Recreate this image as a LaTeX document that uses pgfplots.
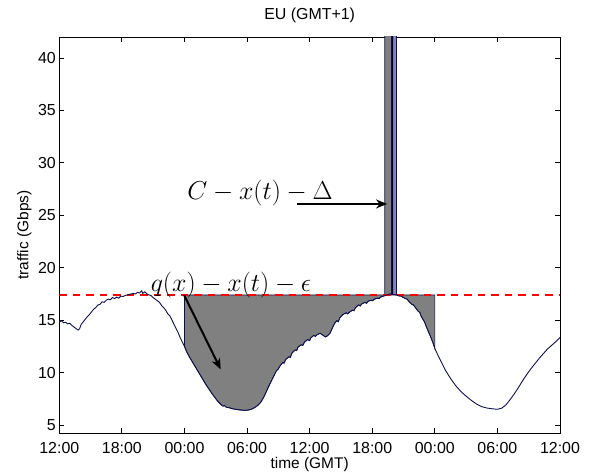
\RequirePackage{fix-cm}
\documentclass[border=0pt]{standalone}
\usepackage{fontspec}
\setmainfont{Liberation Sans}
\usepackage{pgfplots}
\pgfplotsset{compat=1.18}
\usepackage{pgfplotstable}
\usepgfplotslibrary{fillbetween}
\usetikzlibrary{arrows.meta}

\definecolor{curvenavy}{RGB}{15,15,75}
\definecolor{spikeblue}{RGB}{130,130,200}
\definecolor{fillgray}{RGB}{128,128,128}

% hours since 12:00 GMT, traffic in Gbps
\pgfplotstableread{
x y
0.0 14.8
0.2 14.95
0.4 14.75
0.6 14.8
0.8 14.65
1.0 14.7
1.2 14.5
1.4 14.35
1.6 14.2
1.8 14.05
1.95 14.2
2.1 14.6
2.3 14.85
2.5 15.1
2.7 15.35
2.9 15.55
3.1 15.8
3.3 16.05
3.5 16.2
3.7 16.45
3.9 16.5
4.1 16.75
4.3 16.7
4.5 16.9
4.7 17.0
4.9 16.95
5.1 17.15
5.3 17.05
5.5 17.2
5.7 17.1
5.9 17.3
6.1 17.25
6.3 17.35
6.5 17.4
6.7 17.45
6.9 17.5
7.1 17.55
7.3 17.5
7.5 17.65
7.7 17.6
7.9 17.8
8.0 17.55
8.2 17.7
8.4 17.5
8.6 17.4
8.8 17.35
9.0 17.15
9.2 17.0
9.4 16.85
9.6 16.7
9.8 16.4
10.0 16.2
10.2 15.95
10.4 15.6
10.6 15.4
10.8 15.0
11.0 14.6
11.2 14.2
11.4 13.8
11.6 13.3
11.8 12.9
12.0 12.5
12.2 12.0
12.5 11.45
12.8 10.95
13.1 10.45
13.4 9.95
13.7 9.45
14.0 8.95
14.3 8.5
14.6 8.05
14.9 7.65
15.2 7.25
15.5 6.95
15.7 6.8
15.85 6.85
16.0 6.7
16.3 6.65
16.6 6.55
16.9 6.5
17.2 6.45
17.5 6.42
17.8 6.4
18.1 6.42
18.4 6.5
18.7 6.65
19.0 6.85
19.3 7.15
19.6 7.65
19.9 8.3
20.2 8.95
20.5 9.55
20.8 10.15
21.0 10.35
21.1 10.55
21.4 10.95
21.55 10.9
21.7 11.25
22.0 11.5
22.15 11.45
22.3 11.85
22.6 12.15
22.75 12.1
22.9 12.45
23.2 12.65
23.35 12.6
23.5 12.9
23.8 13.15
24.0 13.05
24.1 13.3
24.4 13.55
24.55 13.45
24.7 13.6
25.0 13.75
25.3 13.55
25.5 13.4
25.7 13.5
25.95 13.75
26.2 14.3
26.4 14.7
26.6 14.95
26.75 14.85
26.9 15.25
27.2 15.55
27.5 15.7
27.65 15.6
27.8 15.75
28.1 15.95
28.25 15.9
28.4 16.2
28.7 16.45
28.85 16.35
29.0 16.55
29.3 16.7
29.45 16.6
29.6 16.8
29.9 16.9
30.05 16.85
30.2 17.0
30.5 17.1
30.65 17.05
30.8 17.2
31.1 17.3
31.4 17.4
31.7 17.5
32.0 17.45
32.35 17.4
32.6 17.3
32.75 17.3
32.9 17.2
33.2 17.05
33.35 17.0
33.5 16.8
33.8 16.5
33.95 16.45
34.1 16.25
34.4 15.85
34.55 15.75
34.7 15.35
35.0 14.85
35.3 14.1
35.6 13.4
35.8 12.9
36.0 12.3
36.3 11.65
36.6 11.05
37.0 10.25
37.5 9.45
38.0 8.75
38.5 8.2
39.0 7.75
39.5 7.35
40.0 7.0
40.5 6.75
41.0 6.62
41.5 6.55
42.0 6.5
42.4 6.6
42.8 6.9
43.2 7.4
43.6 7.95
44.0 8.55
44.4 9.2
44.8 9.8
45.2 10.35
45.6 10.85
46.0 11.35
46.4 11.8
46.8 12.25
47.2 12.6
47.6 12.95
48.0 13.35
}\traffic

\begin{document}
\begin{tikzpicture}
\begin{axis}[
    scale only axis,
    width=500.7bp, height=396bp,
    xmin=0, xmax=48,
    ymin=4.24, ymax=42,
    xtick={0,6,...,48},
    xticklabels={12:00,18:00,00:00,06:00,12:00,18:00,00:00,06:00,12:00},
    ytick={5,10,...,40},
    tick pos=both,
    tick align=inside,
    major tick length=5bp,
    axis line style={line width=0.9bp},
    every tick/.style={black, line width=0.8bp},
    /pgf/number format/assume math mode=true,
    tick label style={font=\fontsize{16}{19}\selectfont},
    xticklabel style={anchor=base, yshift=-20bp},
    title={EU (GMT+1)},
    title style={font=\fontsize{16}{19}\selectfont, at={(axis description cs:0.5,1.0303)}, anchor=base},
    xlabel={time (GMT)},
    xlabel style={font=\fontsize{15.5}{18}\selectfont, at={(axis description cs:0.5,-0.0884)}, anchor=base},
    ylabel={traffic (Gbps)},
    ylabel style={font=\fontsize{15.5}{18}\selectfont, at={(axis description cs:-0.062,0.5)}, anchor=base},
]
% threshold level
\addplot[red, line width=2.4bp, dash pattern=on 7.5bp off 6bp] coordinates {(0,17.4) (48,17.4)};

\addplot[draw=none, name path=curve] table {\traffic};
\addplot[draw=none, name path=top] coordinates {
    (12,17.4) (31.2,17.4) (31.2,45) (31.85,45) (31.85,17.4) (36,17.4)};
\addplot[fill=fillgray, draw=curvenavy, line width=0.6bp]
    fill between[of=top and curve, soft clip={domain=12:36}];

% spike
\addplot[fill=spikeblue, draw=curvenavy, line width=0.7bp] coordinates {
    (31.98,17.45) (31.98,45) (32.32,45) (32.32,17.42)} -- cycle;
\addplot[black, line width=0.8bp] coordinates {(31.9,17.4) (31.9,45)};

% traffic
\addplot[curvenavy, line width=0.9bp] table {\traffic};

% annotations
\node[font=\fontsize{26}{30}\selectfont, anchor=base] at (axis cs:16.46,17.78) {$q(x) - x(t) - \epsilon$};
\node[font=\fontsize{26}{30}\selectfont, anchor=base] at (axis cs:19.24,26.55) {$C - x(t) - \Delta$};
\draw[line width=2bp, -{Stealth[length=11bp, width=9bp]}] (axis cs:11.96,17.4) -- (axis cs:15.47,10.31);
\draw[line width=2bp, -{Stealth[length=11bp, width=9bp]}] (axis cs:22.79,26.08) -- (axis cs:31.42,26.08);
\end{axis}
\pgfresetboundingbox
\path[use as bounding box] (-59.3bp,-39bp) rectangle (530.7bp,433bp);
\end{tikzpicture}
\end{document}
